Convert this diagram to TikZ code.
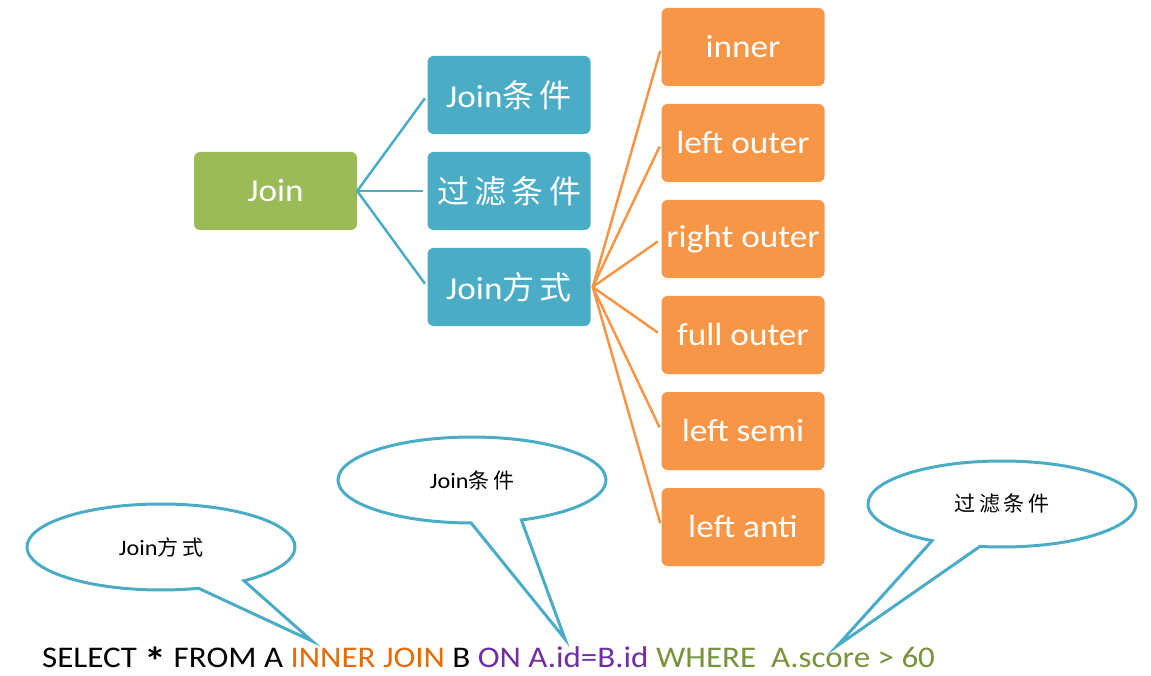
\documentclass[tikz,border=0pt]{standalone}
\usepackage{fontspec}
\setmainfont{Carlito}[FakeStretch=1.1]
\newfontfamily\cjk{Noto Sans CJK SC}
\usetikzlibrary{shapes.callouts}
\definecolor{jgreen}{HTML}{9BBB59}
\definecolor{jblue}{HTML}{4BACC6}
\definecolor{jorange}{HTML}{F79646}
\definecolor{sqlorange}{HTML}{E36C09}
\definecolor{sqlpurple}{HTML}{7030A0}
\definecolor{sqlgreen}{HTML}{77933C}
\newcommand{\bigast}{{\fontsize{40}{40}\selectfont\bfseries\raisebox{-8pt}{*}}}
\begin{document}
\begin{tikzpicture}[x=1pt,y=-1pt,
  box/.style={rounded corners=6pt, minimum width=163pt, minimum height=78pt, inner sep=0pt, text=white, font=\fontsize{32}{38}\selectfont},
  greenbox/.style={box, fill=jgreen},
  bluebox/.style={box, fill=jblue},
  orangebox/.style={box, fill=jorange},
  blueline/.style={draw=jblue, line width=2.5pt, shorten >=4pt},
  orangeline/.style={draw=jorange, line width=2.5pt, shorten >=4pt},
  bubble/.style={ellipse callout, draw=jblue, fill=white, line width=3pt, minimum width=268pt, minimum height=86pt, inner sep=0pt, callout pointer arc=22, font=\fontsize{22}{26}\selectfont},
  sql/.style={anchor=base west, inner sep=0pt, font=\fontsize{30}{34}\selectfont}
]
\useasboundingbox (0,0) rectangle (1151,676);
\node[greenbox] (join) at (275.5,191) {Join};
\node[bluebox] (cond) at (509,95) {Join{\cjk 条\,件}};
\node[bluebox] (filt) at (509,191) {{\cjk 过\,滤\,条\,件}};
\node[bluebox] (way) at (509,287) {Join{\cjk 方\,式}};
\node[orangebox] (inner) at (743,47) {inner};
\node[orangebox] (lo) at (743,143) {left outer};
\node[orangebox] (ro) at (743,239) {right outer};
\node[orangebox] (fo) at (743,335) {full outer};
\node[orangebox] (ls) at (743,431) {left semi};
\node[orangebox] (la) at (743,527) {left anti};
\foreach \t in {cond,filt,way} \draw[blueline] (join.east) -- (\t.west);
\foreach \t in {inner,lo,ro,fo,ls,la} \draw[orangeline] ([xshift=2pt]way.east) -- (\t.west);
\node[sql] (sqltext) at (42,667) {SELECT \bigast{} FROM A \textcolor{sqlorange}{INNER JOIN} B \textcolor{sqlpurple}{ON A.id=B.id} \textcolor{sqlgreen}{WHERE~ A.score > 60}};
\coordinate (t1) at (312,641);
\coordinate (t2) at (565,639);
\coordinate (t3) at (837,646);
\node[bubble, callout absolute pointer=(t1)] (b1) at (161,547) {Join{\cjk\fontsize{21}{26}\selectfont 方\,式}};
\node[bubble, callout absolute pointer=(t2)] (b2) at (472,480) {Join{\cjk\fontsize{21}{26}\selectfont 条\,件}};
\node[bubble, callout absolute pointer=(t3)] (b3) at (1002,504) {{\cjk\fontsize{21}{26}\selectfont 过\,滤\,条\,件}};
\end{tikzpicture}
\end{document}
